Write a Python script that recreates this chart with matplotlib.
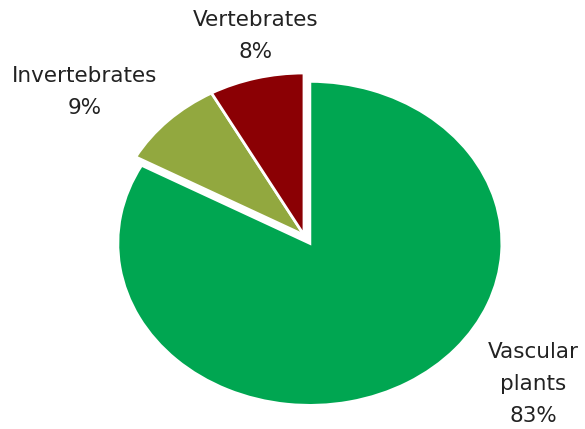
import matplotlib.pyplot as plt

labels = ['Vascular\nplants\n83%', 'Invertebrates\n9%', 'Vertebrates\n8%']
shares = [83, 9, 8]
colors = ['#00a651', '#92a83f', '#8b0004']
explode = [0.06, 0, 0]

W, H = 585, 429
fig = plt.figure(figsize=(W / 100, H / 100), dpi=100)
ax = fig.add_axes([0, 0, 1, 1])

# pie centre and radii in pixels (the pie is drawn as an ellipse)
cx, cy, rx, ry = 304, 235, 192, 162

ax.pie(shares, colors=colors, explode=explode, startangle=90, counterclock=False,
       wedgeprops=dict(edgecolor='white', linewidth=2))
ax.set_aspect('auto')
ax.set_xlim(-cx / rx, (W - cx) / rx)
ax.set_ylim(-(H - cy) / ry, cy / ry)
ax.axis('off')

# label centres in pixels
label_pos = [(533, 384), (85, 92), (256, 36)]
for text, (px, py) in zip(labels, label_pos):
    fig.text(px / W, 1 - py / H, text, ha='center', va='center', fontsize=15.5,
             color='#222222', linespacing=1.75, family='DejaVu Sans')

fig.savefig('out.png', dpi=100)
